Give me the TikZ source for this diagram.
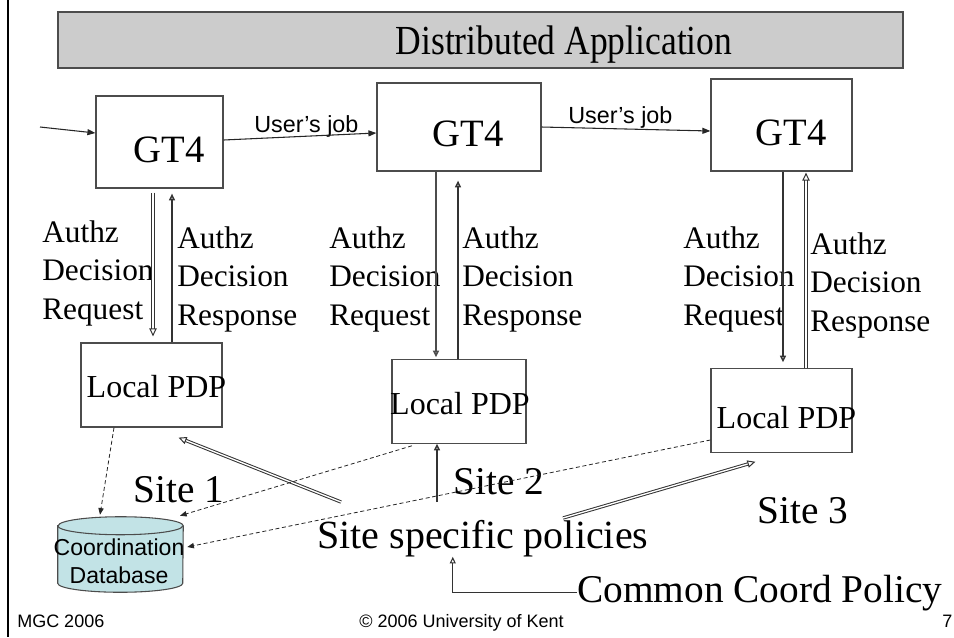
\documentclass[tikz,border=0pt]{standalone}
\usepackage{fontspec}
\setmainfont{Liberation Serif}
\setsansfont{Liberation Sans}
\usetikzlibrary{arrows.meta,positioning,shapes.geometric}
\definecolor{dbfill}{HTML}{C2E3E6}

\begin{document}
\begin{tikzpicture}[x=0.75pt,y=-0.75pt,
  box/.style={draw=black!70,line width=0.9pt,inner sep=0pt},
  gtbox/.style={box,minimum height=69pt},
  pdpbox/.style={box,minimum height=62.5pt,minimum width=105.75pt},
  gtlbl/.style={font=\fontsize{29}{35}\selectfont},
  pdplbl/.style={font=\fontsize{24}{29}\selectfont},
  authz/.style={font=\fontsize{23.5}{29}\selectfont,align=left,anchor=north west,inner sep=0pt},
  big/.style={font=\fontsize{29.5}{35}\selectfont,anchor=base west,inner sep=0pt},
  job/.style={font=\sffamily\fontsize{17.5}{21}\selectfont,anchor=base west,inner sep=0pt},
  foot/.style={font=\sffamily\fontsize{13.5}{16}\selectfont,anchor=base west,inner sep=0pt},
  flow/.style={draw=black!85,line width=0.8pt,-{Triangle[length=6pt,width=4.5pt]}},
  call/.style={draw=black!80,line width=1.1pt,-{Triangle[open,length=5pt,width=4.5pt]}},
  dbl/.style={draw=black!80,double,double distance=1pt,line width=0.75pt,
              -{Triangle[open,length=6pt,width=5.5pt]}},
  dashto/.style={draw=black!85,line width=0.6pt,dash pattern=on 3pt off 2pt,
                 -{Triangle[length=5pt,width=4pt]}}]
\useasboundingbox (0,0) rectangle (954,637);
\draw[line width=1.5pt] (8,0) -- (8,637);

% title bar
\node[box,fill=black!20,minimum width=633.75pt,minimum height=42pt,
  label={[font=\fontsize{31}{36}\selectfont,xshift=62.6pt,yshift=-3.6pt]center:\scalebox{0.86}[1]{Distributed Application}}]
  (title) at (480.5,40) {};

% GT4 containers
\node[gtbox,minimum width=95.25pt,label={[gtlbl,xshift=7.1pt,yshift=-6pt]center:GT4}] (gt1) at (159.5,142) {};
\node[gtbox,minimum width=123pt,minimum height=66pt,label={[gtlbl,xshift=6.75pt,yshift=-4.9pt]center:GT4}] (gt2) at (459,127) {};
\node[gtbox,minimum width=105.75pt,label={[gtlbl,xshift=7.1pt,yshift=-6pt]center:GT4}] (gt3) at (781.5,125) {};

% local PDPs
\node[pdpbox,minimum height=63pt,label={[pdplbl,xshift=3.75pt,yshift=-1.5pt]center:Local PDP}] (pdp1) at (151.5,385) {};
\node[pdpbox,minimum width=100.5pt,label={[pdplbl,xshift=0.75pt,yshift=-1.9pt]center:Local PDP}] (pdp2) at (459,401.5) {};
\node[pdpbox,label={[pdplbl,xshift=3.75pt,yshift=-5.6pt]center:Local PDP}] (pdp3) at (781.5,410.5) {};

% coordination database (drum)
\node[minimum width=93.75pt,minimum height=56.25pt,inner sep=0pt] (db) at (120.5,554.5) {};
\draw[draw=black!70,line width=0.8pt,fill=dbfill]
  ([yshift=-6.75pt]db.north west) -- ([yshift=6.75pt]db.south west)
  arc[start angle=180,end angle=360,x radius=46.875pt,y radius=6.75pt]
  -- ([yshift=-6.75pt]db.north east)
  arc[start angle=0,end angle=180,x radius=46.875pt,y radius=6.75pt] -- cycle;
\draw[draw=black!70,line width=0.8pt] ([yshift=-6.75pt]db.north west)
  arc[start angle=180,end angle=360,x radius=46.875pt,y radius=6.75pt];
\node[font=\sffamily\fontsize{17.3}{21}\selectfont,align=center,inner sep=0pt,
  xshift=-1.1pt,yshift=-4.9pt] (dbtxt) at (db.center) {Coordination\\Database};

% texts
\node[job] (job1) at (254,132) {User’s job};
\node[job] (job2) at (568,123) {User’s job};
\node[authz] (req1) at (42,220) {Authz\\Decision\\Request};
\node[authz] (resp1) at (177,226) {Authz\\Decision\\Response};
\node[authz] (req2) at (329,226) {Authz\\Decision\\Request};
\node[authz] (resp2) at (462,226) {Authz\\Decision\\Response};
\node[authz] (req3) at (683,226) {Authz\\Decision\\Request};
\node[authz] (resp3) at (810,232) {Authz\\Decision\\Response};
\node[big] (site1) at (133,502) {Site 1};
\node[big] (site2) at (453,494) {Site 2};
\node[big] (site3) at (757,523) {Site 3};
\node[big,font=\fontsize{30}{36}\selectfont] (pol) at (317,548) {Site specific policies};
\node[big] (ccp) at (577,602) {Common Coord Policy};
\node[foot] (mgc) at (17,627) {MGC 2006};
\node[foot] (copy) at (359,627) {© 2006 University of Kent};
\node[foot] (pgno) at (942,627) {7};

\coordinate (entry) at (40,127);
\coordinate (polA) at (341,502);
\coordinate (polB) at (437,502);
\coordinate (polC) at (563,518);

% job flow
\draw[flow] (entry) -- ([yshift=6.75pt]gt1.west);
\draw[flow] ([yshift=1.5pt]gt1.east) -- ([yshift=-4.5pt]gt2.west);
\draw[flow] (gt2.east) -- ([yshift=-4.5pt]gt3.west);

% authz request / response
\draw[dbl] ([shift={(-6.5,4)}]gt1.south) -- ([shift={(1.5,-6)}]pdp1.north);
\draw[call] ([shift={(20.5,0)}]pdp1.north) -- ([shift={(12.5,5)}]gt1.south);
\draw[call,line width=1.5pt,draw=black!70] ([shift={(-23,0)}]gt2.south) -- ([shift={(-23,-2)}]pdp2.north);
\draw[call] ([shift={(-1,0)}]pdp2.north) -- ([shift={(-1,9)}]gt2.south);
\draw[call] ([shift={(1.5,0)}]gt3.south) -- ([shift={(1.5,-6)}]pdp3.north);
\draw[dbl] ([shift={(24.5,0)}]pdp3.north) -- ([shift={(24.5,1)}]gt3.south);

% policies
\draw[dbl] (polA) -- ([shift={(-44,10)}]pdp1.south east);
\draw[call] (polB) -- (pdp2.south -| polB);
\draw[dbl] (polC) -- ([shift={(45,9)}]pdp3.south west);
\draw[call,line width=0.8pt] (ccp.west) -| ([shift={(-30,0)}]pol.south);

% links to the database
\draw[dashto] ([shift={(-37.5,0)}]pdp1.south) -- ([shift={(-20.5,-2)}]db.north);
\draw[dashto] ([shift={(-47,2)}]pdp2.south) -- ([shift={(59.5,-1)}]db.north);
\draw[dashto] ([shift={(0,29.5)}]pdp3.west) -- ([shift={(4,-7.5)}]db.east);
\end{tikzpicture}
\end{document}
